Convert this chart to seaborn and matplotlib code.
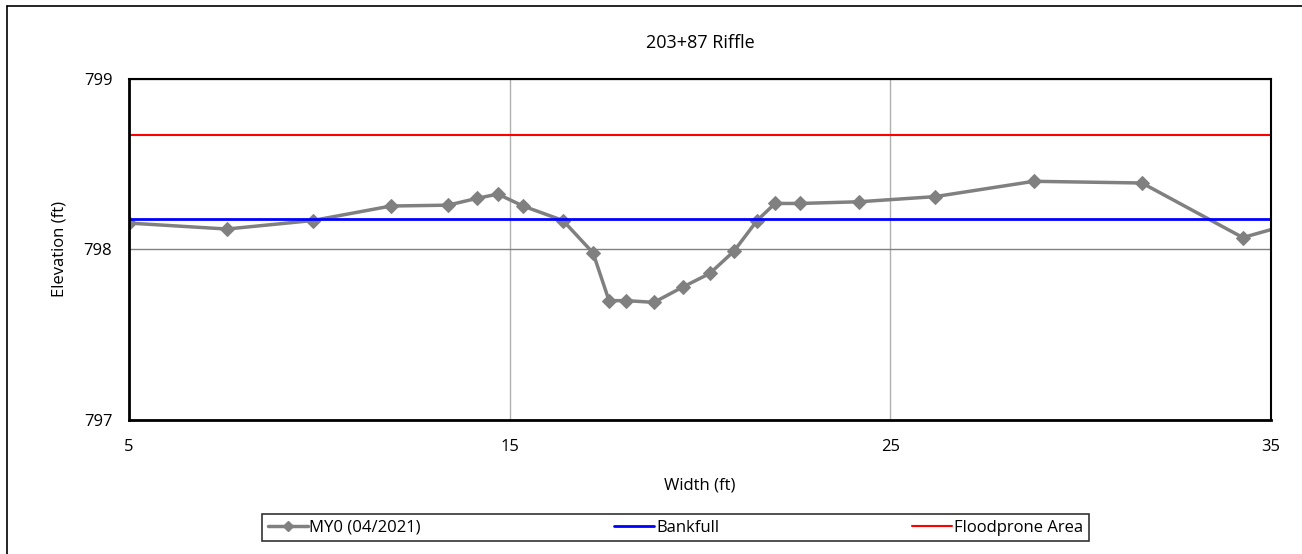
import numpy as np
import pandas as pd
import matplotlib
matplotlib.use("Agg")
import matplotlib.pyplot as plt
import seaborn as sns
from matplotlib.lines import Line2D

# Survey data
width_ft = [5.0, 7.57, 9.83, 11.88, 13.38, 14.14, 14.69, 15.35, 16.40, 17.19, 17.61, 18.06,
            18.79, 19.55, 20.26, 20.89, 21.50, 21.97, 22.63, 24.18, 26.17, 28.77, 31.61,
            34.26, 36.0]
elev_ft = [798.155, 798.12, 798.17, 798.255, 798.26, 798.30, 798.325, 798.255, 798.17,
           797.98, 797.70, 797.70, 797.69, 797.78, 797.86, 797.99, 798.17, 798.27, 798.27,
           798.28, 798.31, 798.40, 798.39, 798.07, 798.18]
bankfull_elev = 798.18
floodprone_elev = 798.67
x_ticks = [5, 15, 25, 35]
y_ticks = [797, 798, 799]

df = pd.DataFrame({"Width": width_ft, "Elevation": elev_ft})

sns.set_style("white")
plt.rcParams["font.family"] = ["Open Sans", "DejaVu Sans"]
plt.rcParams["text.color"] = "black"
plt.rcParams["axes.labelcolor"] = "black"
plt.rcParams["xtick.color"] = "black"
plt.rcParams["ytick.color"] = "black"

fig = plt.figure(figsize=(13.02, 5.54), dpi=100)
ax = fig.add_axes([0.0991, 0.2419, 0.8771, 0.6155])

ax.xaxis.grid(True, color="#b0b0b0", lw=1)
ax.yaxis.grid(True, color="#808080", lw=1)
ax.set_axisbelow(True)

sns.lineplot(data=df, x="Width", y="Elevation", ax=ax, color="#808080", lw=2.5,
             marker="D", markersize=7, markeredgecolor="#808080", sort=False,
             label="MY0 (04/2021)", legend=False)
ax.axhline(bankfull_elev, color="#0000ff", lw=2, label="Bankfull")
ax.axhline(floodprone_elev, color="#ff0000", lw=1.5, label="Floodprone Area")

ax.set_xlim(5, 35)
ax.set_ylim(797, 799)
ax.set_xticks(x_ticks)
ax.set_yticks(y_ticks)
ax.set_xlabel("Width (ft)", fontsize=12, labelpad=16)
ax.set_ylabel("Elevation (ft)", fontsize=12, labelpad=12)
ax.set_title("203+87 Riffle", fontsize=13, pad=22)
ax.tick_params(axis="both", labelsize=12, length=5, direction="out", color="black")
ax.tick_params(axis="x", pad=9)
ax.tick_params(axis="y", pad=7)
for side in ["left", "bottom", "top", "right"]:
    ax.spines[side].set_color("black")
    ax.spines[side].set_linewidth(1.5)
ax.spines["left"].set_linewidth(2)
ax.spines["bottom"].set_linewidth(2)

handles, labels = ax.get_legend_handles_labels()
handles[0] = Line2D([], [], color="#808080", lw=2.5, marker="D", markersize=5)
leg = fig.legend(handles, labels, loc="center", bbox_to_anchor=(0.5188, 0.0478), ncol=3,
                 frameon=True, fancybox=False, edgecolor="black", fontsize=12,
                 handlelength=2.4, handletextpad=0.1, columnspacing=11.6,
                 borderpad=0.35)
leg.get_frame().set_linewidth(1.2)

# outer chart border (only left and top edges fall inside the image)
fig.add_artist(Line2D([0.0054, 0.0054], [0.0, 0.989], transform=fig.transFigure,
                      color="black", lw=1.2))
fig.add_artist(Line2D([0.0054, 1.0], [0.989, 0.989], transform=fig.transFigure,
                      color="black", lw=1.2))

fig.savefig("out.png", dpi=100)
